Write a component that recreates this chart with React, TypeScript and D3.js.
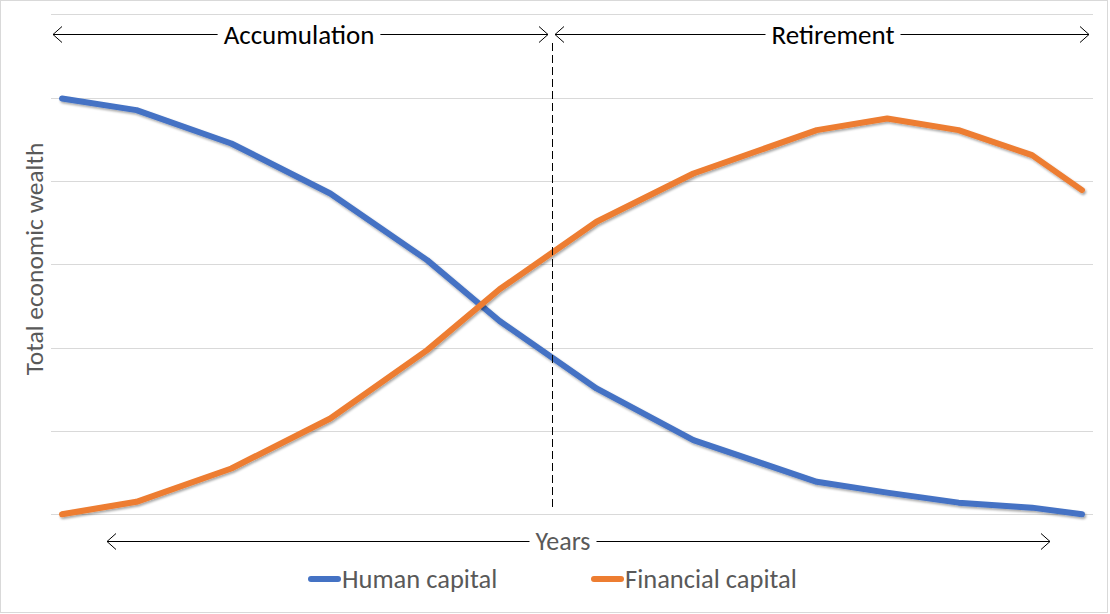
import React, { useRef, useEffect } from "react";
import * as d3 from "d3";

// ---- Data ----
const years = [0, 7.3, 16.6, 26.3, 35.8, 42.9, 52.4, 61.9, 74, 80.9, 87.9, 95.1, 100];
const humanCapital = [4.99, 4.85, 4.45, 3.85, 3.05, 2.32, 1.51, 0.89, 0.39, 0.26, 0.14, 0.08, 0.0];
const financialCapital = [0.0, 0.15, 0.55, 1.15, 1.97, 2.7, 3.51, 4.09, 4.61, 4.75, 4.61, 4.31, 3.89];
const seriesNames = ["Human capital", "Financial capital"];
const seriesColors = ["#4472C4", "#ED7D31"];
const retirementYear = 48;
const phaseLabels = ["Accumulation", "Retirement"];
const yTicks = [0, 1, 2, 3, 4, 5, 6];
const xAxisTitle = "Years";
const yAxisTitle = "Total economic wealth";

const W = 1110;
const H = 614;
const FONT = "Carlito, Calibri, Lato, sans-serif";

export default function App() {
  const ref = useRef<SVGSVGElement | null>(null);

  useEffect(() => {
    const svg = d3.select(ref.current);
    svg.selectAll("*").remove();

    const x = d3.scaleLinear().domain([0, 100]).range([62, 1082]);
    const y = d3.scaleLinear().domain([0, 6]).range([514.3, 14.3]);
    const plotLeft = 51;
    const plotRight = 1093;

    const defs = svg.append("defs");
    const f = defs
      .append("filter")
      .attr("id", "shadow")
      .attr("x", "-5%")
      .attr("y", "-5%")
      .attr("width", "110%")
      .attr("height", "115%");
    f.append("feDropShadow")
      .attr("dx", 1.2)
      .attr("dy", 1.8)
      .attr("stdDeviation", 1)
      .attr("flood-color", "#000")
      .attr("flood-opacity", 0.35);

    svg
      .append("rect")
      .attr("x", 0.5)
      .attr("y", 0.5)
      .attr("width", 1107)
      .attr("height", 612)
      .attr("fill", "#fff")
      .attr("stroke", "#D9D9D9");

    // gridlines
    svg
      .append("g")
      .selectAll("line")
      .data(yTicks)
      .join("line")
      .attr("x1", plotLeft)
      .attr("x2", plotRight)
      .attr("y1", (d) => Math.round(y(d)) + 0.5)
      .attr("y2", (d) => Math.round(y(d)) + 0.5)
      .attr("stroke", "#D9D9D9")
      .attr("stroke-width", 1);

    // series lines
    const line = d3
      .line<number>()
      .x((_, i) => x(years[i]))
      .y((d) => y(d));
    [humanCapital, financialCapital].forEach((vals, i) => {
      svg
        .append("path")
        .attr("d", line(vals))
        .attr("fill", "none")
        .attr("stroke", seriesColors[i])
        .attr("stroke-width", 6)
        .attr("stroke-linejoin", "round")
        .attr("stroke-linecap", "round")
        .attr("filter", "url(#shadow)");
    });

    // retirement dashed line
    svg
      .append("line")
      .attr("x1", Math.round(x(retirementYear)) + 0.5)
      .attr("x2", Math.round(x(retirementYear)) + 0.5)
      .attr("y1", 43)
      .attr("y2", 507)
      .attr("stroke", "#000")
      .attr("stroke-width", 1)
      .attr("stroke-dasharray", "8,4");

    // arrow helper
    const arrow = (
      x1: number,
      x2: number,
      yy: number,
      label: string,
      cx: number,
      color: string,
      size: number
    ) => {
      const g = svg.append("g");
      const t = g
        .append("text")
        .attr("x", cx)
        .attr("y", yy)
        .attr("text-anchor", "middle")
        .attr("dominant-baseline", "central")
        .attr("font-family", FONT)
        .attr("font-size", size)
        .attr("fill", color)
        .text(label);
      const tw = (t.node() as SVGTextElement).getComputedTextLength();
      const gap = 6;
      const yl = Math.round(yy) + 0.5;
      g.append("line")
        .attr("x1", x1)
        .attr("x2", cx - tw / 2 - gap)
        .attr("y1", yl)
        .attr("y2", yl)
        .attr("stroke", "#000");
      g.append("line")
        .attr("x1", cx + tw / 2 + gap)
        .attr("x2", x2)
        .attr("y1", yl)
        .attr("y2", yl)
        .attr("stroke", "#000");
      g.append("path")
        .attr("d", `M${x1 + 9},${yl - 8}L${x1},${yl}L${x1 + 9},${yl + 8}`)
        .attr("fill", "none")
        .attr("stroke", "#000");
      g.append("path")
        .attr("d", `M${x2 - 9},${yl - 8}L${x2},${yl}L${x2 - 9},${yl + 8}`)
        .attr("fill", "none")
        .attr("stroke", "#000");
    };

    arrow(53, 548, 34, phaseLabels[0], 299, "#000", 27);
    arrow(555, 1089, 34, phaseLabels[1], 833, "#000", 27);
    arrow(107, 1050, 541, xAxisTitle, 563, "#595959", 26);

    // y-axis title
    svg
      .append("text")
      .attr("transform", "translate(34,259) rotate(-90)")
      .attr("text-anchor", "middle")
      .attr("dominant-baseline", "central")
      .attr("font-family", FONT)
      .attr("font-size", 25.5)
      .attr("fill", "#595959")
      .text(yAxisTitle);

    // legend
    const legendX = [311, 594];
    const lg = svg.append("g");
    seriesNames.forEach((name, i) => {
      lg.append("line")
        .attr("x1", legendX[i])
        .attr("x2", legendX[i] + 27)
        .attr("y1", 579)
        .attr("y2", 579)
        .attr("stroke", seriesColors[i])
        .attr("stroke-width", 6)
        .attr("stroke-linecap", "round");
      lg.append("text")
        .attr("x", legendX[i] + 31)
        .attr("y", 579)
        .attr("dominant-baseline", "central")
        .attr("font-family", FONT)
        .attr("font-size", 26.5)
        .attr("fill", "#595959")
        .text(name);
    });
  }, []);

  return (
    <svg
      ref={ref}
      width={W}
      height={H}
      style={{ position: "absolute", left: 0, top: 0 }}
    />
  );
}
